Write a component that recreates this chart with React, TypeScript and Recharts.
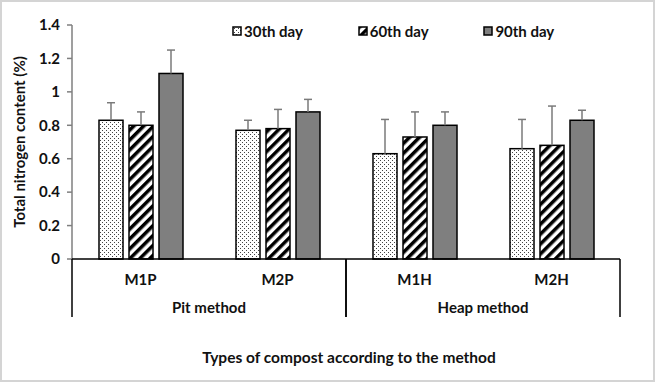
import React from 'react';
import { BarChart, Bar, XAxis, YAxis } from 'recharts';

const categories = ['M1P', 'M2P', 'M1H', 'M2H'];
const methods = ['Pit method', 'Pit method', 'Heap method', 'Heap method'];
const day30 = [0.83, 0.77, 0.63, 0.66];
const day60 = [0.8, 0.78, 0.73, 0.68];
const day90 = [1.11, 0.88, 0.8, 0.83];
const err30 = [0.105, 0.06, 0.205, 0.175];
const err60 = [0.08, 0.115, 0.15, 0.235];
const err90 = [0.14, 0.075, 0.08, 0.06];
const yTicks = [0, 0.2, 0.4, 0.6, 0.8, 1, 1.2, 1.4];

const seriesNames = ['30th day', '60th day', '90th day'];

const data = categories.map((name, i) => ({
  name,
  group: methods[i],
  d30: day30[i],
  d60: day60[i],
  d90: day90[i],
  e30: err30[i],
  e60: err60[i],
  e90: err90[i],
}));

const FONT = 'Lato, "Open Sans", sans-serif';
const MAIN_AXIS_H = 30;

// bar with a one-sided (upper) error whisker
const ErrBar = (errKey: string, valKey: string) => (props: any) => {
  const { x, y, width, height, fill, payload } = props;
  const v = payload[valKey];
  const e = payload[errKey];
  const pxPerUnit = v ? height / v : 0;
  const top = y - e * pxPerUnit;
  const cx = x + width / 2;
  return (
    <g>
      <rect x={x} y={y} width={width} height={height} fill={fill} stroke="#000" strokeWidth={1.5} />
      <line x1={cx} y1={y} x2={cx} y2={top} stroke="#7a7a7a" strokeWidth={1.5} />
      <line x1={cx - 4} y1={top} x2={cx + 4} y2={top} stroke="#7a7a7a" strokeWidth={1.5} />
    </g>
  );
};

const CatTick = (props: any) => {
  const { x, y, payload } = props;
  return (
    <text x={x} y={y + 26} textAnchor="middle" fontFamily={FONT} fontWeight="bold" fontSize={15} fill="#111">
      {payload.value}
    </text>
  );
};

const GroupTick = (props: any) => {
  const { x, y, payload, width, visibleTicksCount } = props;
  const band = width / visibleTicksCount;
  const top = y - MAIN_AXIS_H;
  const bottom = y + 28;
  return (
    <g>
      <line x1={x - band / 2} y1={top} x2={x - band / 2} y2={bottom} stroke="#000" strokeWidth={1.5} />
      <line x1={x + band / 2} y1={top} x2={x + band / 2} y2={bottom} stroke="#000" strokeWidth={1.5} />
      <text x={x} y={y + 24} textAnchor="middle" fontFamily={FONT} fontWeight="bold" fontSize={15} fill="#111">
        {payload.value}
      </text>
    </g>
  );
};

const fills = ['url(#dots)', 'url(#stripes)', '#7f7f7f'];

const LegendBox = () => (
  <div
    style={{
      position: 'absolute',
      top: 20,
      left: 230,
      display: 'flex',
      fontFamily: FONT,
      fontWeight: 'bold',
      fontSize: 15,
      color: '#111',
    }}
  >
    {seriesNames.map((n, i) => (
      <div key={n} style={{ display: 'flex', alignItems: 'center', width: 125.7 }}>
        <svg width={10} height={10} style={{ marginRight: 2 }}>
          <rect x={1} y={1} width={8} height={8} fill={fills[i]} stroke="#000" strokeWidth={1.5} />
        </svg>
        <span>{n}</span>
      </div>
    ))}
  </div>
);

export default function App() {
  return (
    <div
      style={{
        position: 'absolute',
        left: 0,
        top: 0,
        width: 655,
        height: 382,
        background: '#fff',
        border: '2px solid #d4d4d4',
        boxSizing: 'border-box',
      }}
    >
      <BarChart
        width={655}
        height={382}
        data={data}
        margin={{ top: 25, right: 35, left: 0, bottom: 0 }}
        barSize={24}
        barGap={6}
        style={{ position: 'absolute', left: -2, top: -2 }}
      >
        <defs>
          <pattern id="dots" patternUnits="userSpaceOnUse" width={4} height={4}>
            <rect width={4} height={4} fill="#fff" />
            <rect x={0} y={0} width={1} height={1} fill="#444" />
            <rect x={2} y={2} width={1} height={1} fill="#444" />
          </pattern>
          <pattern id="stripes" patternUnits="userSpaceOnUse" width={7} height={7} patternTransform="rotate(45)">
            <rect width={7} height={7} fill="#fff" />
            <rect x={0} y={0} width={3.5} height={7} fill="#000" />
          </pattern>
        </defs>
        <YAxis
          width={72}
          domain={[0, 1.4]}
          ticks={yTicks}
          interval={0}
          axisLine={{ stroke: '#7f7f7f', strokeWidth: 1.5 }}
          tickLine={{ stroke: '#7f7f7f', strokeWidth: 1.5 }}
          tickSize={5}
          tickMargin={7}
          tick={{ fontFamily: FONT, fontWeight: 'bold', fontSize: 15, fill: '#111' }}
          label={{
            content: (p: any) => {
              const vb = p.viewBox;
              const cx = vb.x + 19;
              const cy = vb.y + vb.height / 2;
              return (
                <text
                  x={cx}
                  y={cy}
                  transform={`rotate(-90 ${cx} ${cy})`}
                  textAnchor="middle"
                  dominantBaseline="central"
                  fontFamily={FONT}
                  fontWeight="bold"
                  fontSize={15}
                  fill="#111"
                >
                  Total nitrogen content (%)
                </text>
              );
            },
          }}
        />
        <XAxis
          dataKey="name"
          height={MAIN_AXIS_H}
          interval={0}
          axisLine={{ stroke: '#000', strokeWidth: 1.5 }}
          tickLine={false}
          tickSize={0}
          tickMargin={0}
          tick={<CatTick />}
        />
        <XAxis
          xAxisId="g"
          dataKey="group"
          allowDuplicatedCategory={false}
          height={93}
          interval={0}
          axisLine={false}
          tickLine={false}
          tickSize={0}
          tickMargin={0}
          tick={<GroupTick />}
          label={{
            content: (p: any) => {
              const vb = p.viewBox;
              return (
                <text
                  x={vb.x + vb.width / 2 + 3}
                  y={vb.y + vb.height - 19}
                  textAnchor="middle"
                  fontFamily={FONT}
                  fontWeight="bold"
                  fontSize={15.5}
                  fill="#111"
                >
                  Types of compost according to the method
                </text>
              );
            },
          }}
        />
        <Bar dataKey="d30" name={seriesNames[0]} fill="url(#dots)" shape={ErrBar('e30', 'd30')} isAnimationActive={false} />
        <Bar dataKey="d60" name={seriesNames[1]} fill="url(#stripes)" shape={ErrBar('e60', 'd60')} isAnimationActive={false} />
        <Bar dataKey="d90" name={seriesNames[2]} fill="#7f7f7f" shape={ErrBar('e90', 'd90')} isAnimationActive={false} />
      </BarChart>
      <LegendBox />
    </div>
  );
}
